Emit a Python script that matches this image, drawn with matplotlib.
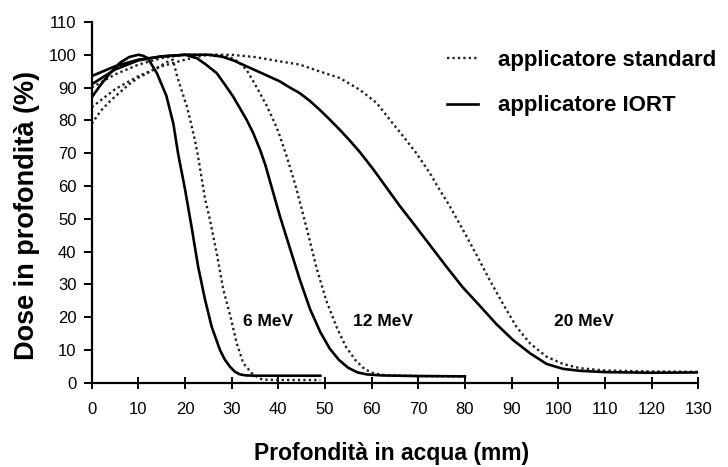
import matplotlib
matplotlib.use("Agg")
import matplotlib.pyplot as plt

plt.rcParams["font.family"] = ["Liberation Sans", "DejaVu Sans"]

# curve percentuali di dose in profondità (mm, %)
d6_iort = [0, 2, 4, 6, 8, 10, 11, 12, 14, 16, 17.5, 18.5, 20, 21.4, 22.8, 24.3, 25.7,
           27.5, 28.5, 29.6, 30.7, 31.8, 33, 35, 40, 49]
v6_iort = [87, 91, 94.5, 97.5, 99.3, 100, 99.7, 99, 94.3, 87.5, 79, 70, 59, 47.6, 35.5,
           25.3, 17.2, 10, 7.2, 5, 3.4, 2.6, 2.3, 2.2, 2.2, 2.2]

d6_std = [0, 2, 4, 6, 8, 10, 12, 14, 16, 17.4, 18.2, 19, 20.4, 21.1, 22.1, 22.8, 24.3,
          25.3, 26.8, 28.2, 29.6, 31.1, 32.5, 34.3, 36, 37, 40, 49]
v6_std = [79, 83, 86, 88.5, 91, 93, 94.5, 96, 97.7, 98.5, 94, 90.3, 84.2, 80.2, 74.1,
          69, 56, 50, 39.5, 28.5, 21, 12, 6, 3, 1.3, 1, 0.9, 0.9]

d12_iort = [0, 5, 10, 15, 20, 22.5, 24.5, 26.8, 28.5, 30.3, 33.2, 34.6, 36.1, 37.2,
            38.2, 40.3, 42.5, 44.6, 46.8, 49, 51, 53, 55, 57, 59, 62, 70, 80]
v12_iort = [91, 95.5, 98.3, 99.5, 100, 99, 97, 94.4, 91, 87.3, 80.2, 76.2, 71, 66.5,
            61.5, 51, 41, 31.5, 22.5, 15.5, 10.5, 7, 4.6, 3.2, 2.6, 2.3, 2.1, 2]

d12_std = [0, 5, 10, 15, 20, 24, 27, 30, 31.5, 33.2, 35.4, 37.5, 39.6, 40.3, 41.8,
           43.2, 43.9, 46.1, 48.2, 50.3, 52.5, 54.5, 56.5, 58.5, 60.3, 63, 70, 80]
v12_std = [84, 89.5, 93.5, 96.5, 98.5, 99.8, 100, 99, 97.8, 95.4, 90, 84.5, 78, 75.3,
           69, 62.5, 59, 47, 35, 25, 17, 11, 7, 4.2, 3, 2.3, 2.1, 2]

d20_iort = [0, 5, 10, 15, 20, 25, 28, 30.5, 33, 35.5, 38, 40.3, 42.5, 44.6, 46.8,
            48.9, 51, 53.2, 55.3, 57.5, 60.3, 63.2, 66, 68.9, 72.5, 76, 79.5, 83.2,
            86.7, 90.3, 94, 97.5, 101, 104.6, 110, 120, 130]
v20_iort = [93.5, 96.5, 98.5, 99.5, 100, 100, 99.4, 98.2, 96.6, 95, 93.4, 91.9, 90,
            88.3, 85.9, 83.2, 80.3, 77.1, 73.9, 70.3, 65.2, 59.5, 54, 48.7, 42, 35.5,
            29.2, 23.5, 18, 13.1, 9, 5.8, 4.3, 3.7, 3.3, 3.1, 3.2]

d20_std = [0, 5, 10, 15, 20, 30, 35, 40.3, 44.6, 48.9, 53.2, 57.5, 61.1, 63.9, 66.8,
           69.6, 72.5, 74.6, 76.5, 79.6, 82.5, 85.3, 88, 91, 94, 97.5, 101, 104.6,
           110, 120, 130]
v20_std = [90, 94, 97, 99, 100, 100, 99.3, 98, 97, 94.9, 92.9, 89.3, 85.3, 80.2, 75.1,
           70, 63.9, 58.8, 54.5, 46.6, 39, 31.4, 24.5, 17.2, 12, 8, 5.8, 4.5, 3.8,
           3.5, 3.4]

energy_labels = ["6 MeV", "12 MeV", "20 MeV"]
label_x = [37.7, 62.5, 105.5]
label_y = [18.7, 18.7, 18.7]

fig = plt.figure(figsize=(7.28, 4.67), dpi=100)
ax = fig.add_axes([0.126, 0.18, 0.833, 0.773])

dot_kw = dict(color="#222222", lw=1.7, ls=(0, (1, 1.3)))
sol_kw = dict(color="black", lw=1.9)

ax.plot(d6_std, v6_std, **dot_kw, label="applicatore standard")
ax.plot(d12_std, v12_std, **dot_kw)
ax.plot(d20_std, v20_std, **dot_kw)
ax.plot(d6_iort, v6_iort, **sol_kw, label="applicatore IORT")
ax.plot(d12_iort, v12_iort, **sol_kw)
ax.plot(d20_iort, v20_iort, **sol_kw)

for txt, x, y in zip(energy_labels, label_x, label_y):
    ax.text(x, y, txt, ha="center", va="center", fontsize=12.5, fontweight="bold")

ax.set_xlim(0, 130)
ax.set_ylim(0, 110)
ax.set_xticks(range(0, 131, 10))
ax.set_yticks(range(0, 111, 10))
for s in ("top", "right"):
    ax.spines[s].set_visible(False)
for s in ("left", "bottom"):
    ax.spines[s].set_linewidth(1.6)
ax.tick_params(axis="x", direction="inout", length=9, width=1.4, labelsize=12, pad=9)
ax.tick_params(axis="y", direction="out", length=6, width=1.4, labelsize=12, pad=5)

ax.set_xlabel("Profondità in acqua (mm)", fontsize=16.5, fontweight="bold")
ax.set_ylabel("Dose in profondità (%)", fontsize=19.5, fontweight="bold")
ax.xaxis.set_label_coords(0.494, -0.163)
ax.yaxis.set_label_coords(-0.085, 0.465)

ax.legend(loc="upper left", bbox_to_anchor=(447 / 728, 1 - 50 / 467),
          bbox_transform=fig.transFigure, frameon=False,
          prop=dict(weight="bold", size=16), handlelength=1.4,
          handletextpad=0.9, labelspacing=1.1, borderaxespad=0, borderpad=0)

fig.savefig("out.png", dpi=100)
